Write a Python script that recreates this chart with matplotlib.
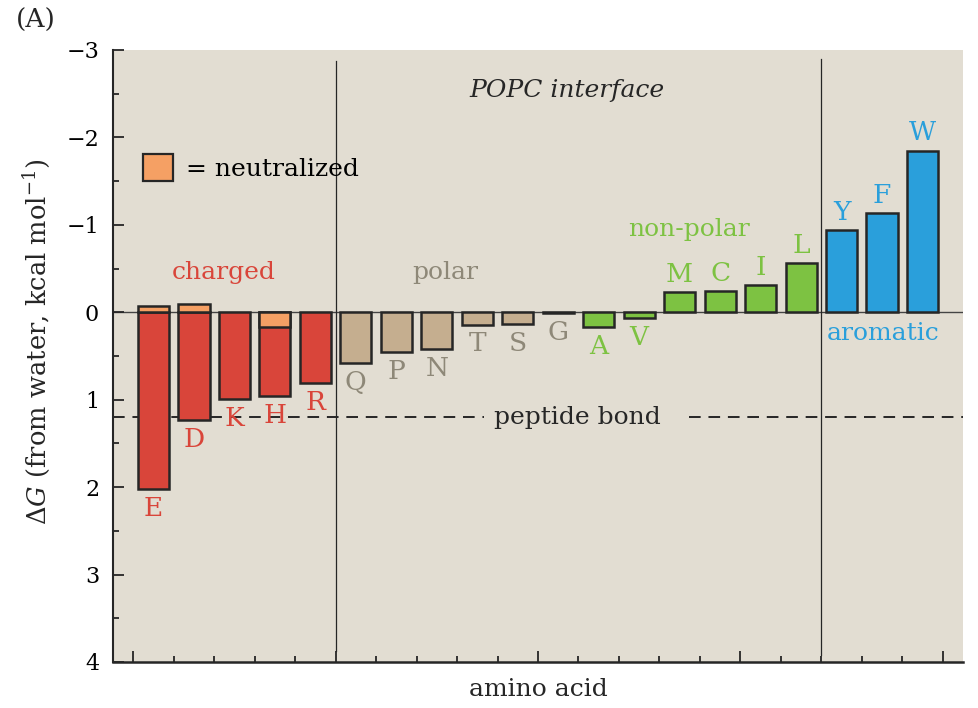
import matplotlib
matplotlib.use("Agg")
import matplotlib.pyplot as plt
from matplotlib.patches import Patch

# Interfacial free energies (POPC interface), kcal/mol
residues = ["E", "D", "K", "H", "R", "Q", "P", "N", "T", "S",
            "G", "A", "V", "M", "C", "I", "L", "Y", "F", "W"]
dG = [2.02, 1.23, 0.99, 0.96, 0.81, 0.58, 0.45, 0.42, 0.14, 0.13,
      0.01, 0.17, 0.07, -0.23, -0.24, -0.31, -0.56, -0.94, -1.13, -1.85]
groups = ["charged"] * 5 + ["polar"] * 6 + ["nonpolar"] * 6 + ["aromatic"] * 3
# Neutralized forms of the ionizable residues
neutral_res = ["E", "D", "H"]
neutral_dG = [-0.07, -0.10, 0.17]
peptide_bond = 1.2

BG = "#E2DDD2"
DARK = "#262626"
bar_colors = {"charged": "#D9453A", "polar": "#C5AE8F",
              "nonpolar": "#7DC242", "aromatic": "#2A9FDB"}
text_colors = {"charged": "#D9453A", "polar": "#8E8878",
               "nonpolar": "#7DC242", "aromatic": "#2A9FDB"}
NEUTRAL = "#F5A064"
FS = 18

plt.rcParams["font.family"] = ["DejaVu Serif"]
plt.rcParams["mathtext.fontset"] = "dejavuserif"

fig = plt.figure(figsize=(9.79, 7.08), dpi=100)
ax = fig.add_axes([113 / 979, 1 - 662 / 708, 850 / 979, 612 / 708])
ax.set_facecolor(BG)

x = list(range(len(residues)))
bw = 0.77
ax.axhline(0, color="#444444", lw=1.0, zorder=1)
ax.bar(x, dG, width=bw, color=[bar_colors[g] for g in groups],
       edgecolor=DARK, linewidth=1.8, zorder=3)
nx = [residues.index(r) for r in neutral_res]
ax.bar(nx, neutral_dG, width=bw, color=NEUTRAL, edgecolor=DARK,
       linewidth=1.8, zorder=4)

# residue letters below (unfavourable) or above (favourable) each bar
for xi, v, r, g in zip(x, dG, residues, groups):
    if v >= 0:
        ax.annotate(r, (xi, v), xytext=(0, -5), textcoords="offset points",
                    ha="center", va="top", fontsize=19, color=text_colors[g],
                    zorder=5)
    else:
        ax.annotate(r, (xi, v), xytext=(0, 4), textcoords="offset points",
                    ha="center", va="bottom", fontsize=19, color=text_colors[g],
                    zorder=5)

# group separators
ax.plot([4.5, 4.5], [-2.87, 3.87], color=DARK, lw=0.9, zorder=2)
ax.plot([16.5, 16.5], [-2.9, 3.92], color=DARK, lw=0.9, zorder=2)

# peptide-bond reference level, broken around its label
ax.plot([-1, 8.17], [peptide_bond, peptide_bond], color=DARK, lw=1.4,
        dashes=(6, 4), zorder=2)
ax.plot([13.24, 20], [peptide_bond, peptide_bond], color=DARK, lw=1.4,
        dashes=(6, 4), zorder=2)
ax.text(10.47, peptide_bond, "peptide bond", ha="center", va="center",
        fontsize=FS, color=DARK, zorder=3)

ax.text(0.534, 0.934, "POPC interface", transform=ax.transAxes, ha="center",
        va="center", fontsize=FS, style="italic", color=DARK)
ax.text(0.130, 0.637, "charged", transform=ax.transAxes, ha="center",
        va="center", fontsize=FS, color=text_colors["charged"])
ax.text(0.391, 0.637, "polar", transform=ax.transAxes, ha="center",
        va="center", fontsize=FS, color=text_colors["polar"])
ax.text(0.678, 0.707, "non-polar", transform=ax.transAxes, ha="center",
        va="center", fontsize=FS, color=text_colors["nonpolar"])
ax.text(0.906, 0.536, "aromatic", transform=ax.transAxes, ha="center",
        va="center", fontsize=FS, color=text_colors["aromatic"])

ax.legend(handles=[Patch(facecolor=NEUTRAL, edgecolor=DARK, linewidth=1.6)],
          labels=["= neutralized"], frameon=False, fontsize=FS,
          handlelength=1.2, handleheight=1.3, handletextpad=0.55,
          loc="upper left", bbox_to_anchor=(0.035, 0.83),
          borderaxespad=0, borderpad=0)

ax.set_xlim(-1, 20)
ax.set_ylim(4, -3)
ax.set_yticks(range(-3, 5))
ax.set_yticks([v + 0.5 for v in range(-3, 4)], minor=True)
ax.set_xticks([-0.5, 4.5, 9.5, 14.5, 19.5])
ax.set_xticks([k - 0.5 for k in range(21)], minor=True)
ax.set_xticklabels([])
ax.tick_params(axis="both", which="both", direction="in", color=DARK)
ax.tick_params(axis="y", which="major", length=8, width=1.3, pad=10,
               labelsize=16)
ax.tick_params(axis="y", which="minor", length=4, width=1.3)
ax.tick_params(axis="x", which="major", length=8, width=1.3)
ax.tick_params(axis="x", which="minor", length=4.5, width=1.3)

for s in ["top", "right"]:
    ax.spines[s].set_visible(False)
ax.spines["left"].set_linewidth(1.5)
ax.spines["bottom"].set_linewidth(1.8)
ax.spines["left"].set_color(DARK)
ax.spines["bottom"].set_color(DARK)

ax.set_xlabel("amino acid", fontsize=FS, labelpad=8, color=DARK)
ax.set_ylabel(r"$\Delta G$ (from water, kcal mol$^{-1}$)", fontsize=18.5,
              color=DARK)
ax.yaxis.set_label_coords(-0.072, 0.523)

fig.text(16 / 979, 1 - 20 / 708, "(A)", fontsize=19, va="center", ha="left",
         color=DARK)

fig.savefig("out.png", dpi=100, facecolor="white")
